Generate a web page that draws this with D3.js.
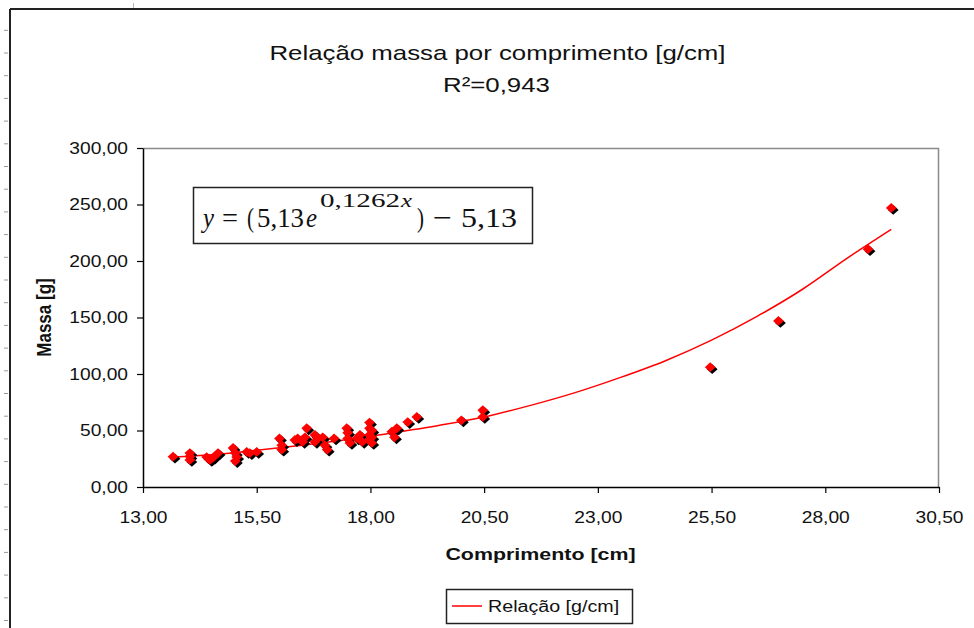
<!DOCTYPE html>
<html>
<head>
<meta charset="utf-8">
<script src="https://cdn.jsdelivr.net/npm/d3@7"></script>
<style>
  html, body { margin: 0; padding: 0; background: #fff; }
  svg { display: block; }
</style>
</head>
<body>
<svg id="chart" width="974" height="628" font-family="'Liberation Sans', Arial, sans-serif"></svg>
<script>
// ---------- data ----------
const title = "Relação massa por comprimento [g/cm]";
const subtitle = "R²=0,943";
const xTitle = "Comprimento [cm]";
const yTitle = "Massa [g]";
const legendLabel = "Relação [g/cm]";

const xTicks = [13, 15.5, 18, 20.5, 23, 25.5, 28, 30.5];
const yTicks = [0, 50, 100, 150, 200, 250, 300];

// observed points: comprimento [cm] and massa [g]
const comprimento = [13.66, 14.03, 14.03, 14.03, 14.40, 14.47, 14.54, 14.65, 14.98, 15.03, 15.03, 15.06,
  15.28, 15.35, 15.50, 16.00, 16.05, 16.05, 16.34, 16.40, 16.51, 16.56, 16.60, 16.78, 16.78, 16.84,
  16.95, 17.00, 17.05, 17.20, 17.48, 17.50, 17.50, 17.55, 17.70, 17.77, 17.82, 17.98, 17.98, 17.98,
  17.98, 18.03, 18.03, 18.03, 18.47, 18.58, 18.53, 18.82, 19.02, 20.00, 20.47, 20.47, 25.47, 26.97,
  28.94, 29.45];
const massa = [26.8, 30, 24, 27, 26.5, 24, 26, 30, 34.5, 30, 23, 26.5,
  31, 30, 31, 43, 37, 33, 41.6, 43, 40, 44, 52, 46, 40, 43,
  44, 37, 33, 43, 52, 48, 43, 39, 43, 46, 40, 57, 52, 46,
  42, 50, 44, 39, 49, 52, 44, 57.5, 62, 59, 68, 62, 106, 147,
  210.5, 247];

// trend line "Relação [g/cm]"
const trendX = [13.66, 14.5, 15.5, 16.5, 17.5, 18.5, 19.5, 20.5, 21.5, 22.5, 23.5, 24.5, 25.5, 26.5, 27.5, 28.5, 29.45];
const trendY = [26.5, 28.5, 32.5, 37, 42, 48, 54.5, 62, 72, 83.5, 97, 112, 130, 151, 175, 203, 228];

// equation pieces: text, start, end (px), style
const eqPieces = [
  {t: "y", a: 203, b: 214, it: true},
  {t: "=", a: 222, b: 238},
  {t: "(", a: 247, b: 254},
  {t: "5,13", a: 257, b: 304},
  {t: "e", a: 306, b: 317, it: true},
  {t: "0,1262", a: 320, b: 400, sup: true},
  {t: "x", a: 401, b: 412, it: true, sup: true},
  {t: ")", a: 417, b: 424},
  {t: "−", a: 433, b: 452},
  {t: "5,13", a: 461, b: 517}
];

// ---------- setup ----------
const SX = 1.23; // horizontal stretch of the original screenshot text
const svg = d3.select("#chart");
const loc = d3.formatLocale({decimal: ",", thousands: ".", grouping: [3], currency: ["", ""]});
const fmt = loc.format(".2f");

const x = d3.scaleLinear().domain([13, 30.5]).range([143, 939]);
const y = d3.scaleLinear().domain([0, 300]).range([487, 148]);

function stretched(sel, px) {
  return sel.attr("x", px / SX).attr("transform", `scale(${SX},1)`).attr("fill", "#111");
}

// outer frame pieces (screenshot border + ruler)
svg.append("line").attr("x1", 10).attr("x2", 10).attr("y1", 9).attr("y2", 628)
  .attr("stroke", "#222").attr("stroke-width", 2);
svg.append("line").attr("x1", 10).attr("x2", 974).attr("y1", 9).attr("y2", 9)
  .attr("stroke", "#222").attr("stroke-width", 2);
svg.append("g").selectAll("line").data(d3.range(30.3, 628, 22.7)).join("line")
  .attr("x1", 4).attr("x2", 8).attr("y1", d => d).attr("y2", d => d)
  .attr("stroke", "#999").attr("stroke-width", 1);
svg.append("line").attr("x1", 133.5).attr("x2", 133.5).attr("y1", 3).attr("y2", 8)
  .attr("stroke", "#bbb");

// plot area border (gray top/right)
svg.append("path")
  .attr("d", `M${x.range()[0]},${y.range()[1] + 0.5}H${x.range()[1] - 0.5}V${y.range()[0]}`)
  .attr("fill", "none").attr("stroke", "#8a8a8a").attr("stroke-width", 1.5);

// axes
const xAxis = svg.append("g").attr("transform", `translate(0,${y(0)})`)
  .call(d3.axisBottom(x).tickValues(xTicks).tickFormat(fmt).tickSizeInner(6).tickSizeOuter(0));
const yAxis = svg.append("g").attr("transform", `translate(${x(13)},0)`)
  .call(d3.axisLeft(y).tickValues(yTicks).tickFormat(fmt).tickSizeInner(6).tickSizeOuter(0));
[xAxis, yAxis].forEach(g => {
  g.attr("font-family", null);
  g.select(".domain").attr("stroke", "#000").attr("stroke-width", 1.5);
  g.selectAll(".tick line").attr("stroke", "#000").attr("stroke-width", 1.2);
  g.selectAll(".tick text").attr("font-size", 16).attr("fill", "#111");
});
xAxis.attr("font-size", 16);
yAxis.attr("font-size", 16);
xAxis.selectAll(".tick text").attr("y", 25).attr("transform", `scale(1.2,1)`);
yAxis.selectAll(".tick text").attr("x", -15 / 1.2).attr("transform", `scale(1.2,1)`);

// titles
stretched(svg.append("text").attr("y", 60).attr("text-anchor", "middle")
  .attr("font-size", 21).text(title), 497.5);
stretched(svg.append("text").attr("y", 92).attr("text-anchor", "middle")
  .attr("font-size", 21).text(subtitle), 496.5);
stretched(svg.append("text").attr("y", 560).attr("text-anchor", "middle")
  .attr("font-size", 17.4).attr("font-weight", "bold").text(xTitle), 540.5);
svg.append("text")
  .attr("transform", `translate(51,${(y.range()[0] + y.range()[1]) / 2}) scale(1.2,1) rotate(-90)`)
  .attr("text-anchor", "middle").attr("font-size", 17).attr("font-weight", "bold")
  .attr("fill", "#111").text(yTitle);

// equation box
svg.append("rect").attr("x", 193.5).attr("y", 187.5).attr("width", 339).attr("height", 56)
  .attr("fill", "#fff").attr("stroke", "#222").attr("stroke-width", 1.5);
svg.append("g").selectAll("text").data(eqPieces).join("text")
  .attr("x", d => d.a)
  .attr("y", d => d.sup ? 207 : 227)
  .attr("textLength", d => d.b - d.a)
  .attr("lengthAdjust", "spacingAndGlyphs")
  .style("font-family", '"Liberation Serif", "Times New Roman", serif')
  .style("font-style", d => d.it ? "italic" : "normal")
  .attr("font-size", d => d.sup ? 18 : 28)
  .attr("fill", "#111")
  .text(d => d.t);

// trend line
const pts = trendX.map((d, i) => [d, trendY[i]]);
svg.append("path").datum(pts)
  .attr("d", d3.line().x(d => x(d[0])).y(d => y(d[1])).curve(d3.curveMonotoneX))
  .attr("fill", "none").attr("stroke", "#ff0000").attr("stroke-width", 1.5);

// markers (black shadow + red diamond)
const obs = comprimento.map((d, i) => [d, massa[i]]);
const diamond = d3.symbol().type(d3.symbolSquare).size(48);
svg.append("g").selectAll("path").data(obs).join("path")
  .attr("d", diamond)
  .attr("transform", d => `translate(${x(d[0]) + 2},${y(d[1]) + 2}) scale(1.1,1) rotate(45)`)
  .attr("fill", "#000");
svg.append("g").selectAll("path").data(obs).join("path")
  .attr("d", diamond)
  .attr("transform", d => `translate(${x(d[0])},${y(d[1])}) scale(1.1,1) rotate(45)`)
  .attr("fill", "#ff0000");

// legend
svg.append("rect").attr("x", 446.5).attr("y", 589.5).attr("width", 186).attr("height", 34)
  .attr("fill", "#fff").attr("stroke", "#222").attr("stroke-width", 1.5);
svg.append("line").attr("x1", 452).attr("x2", 482).attr("y1", 606).attr("y2", 606)
  .attr("stroke", "#ff0000").attr("stroke-width", 1.5);
stretched(svg.append("text").attr("y", 612).attr("font-size", 16).text(legendLabel), 488);
</script>
</body>
</html>
